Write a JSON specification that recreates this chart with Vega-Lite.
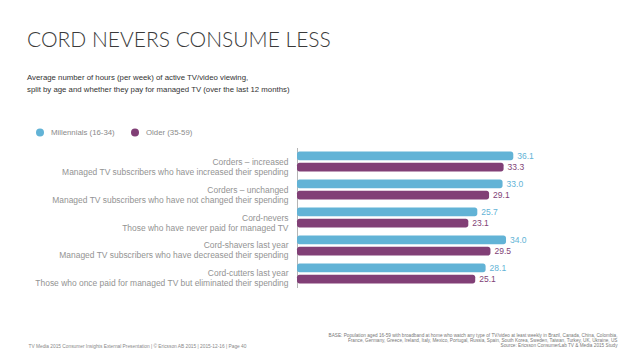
{
  "$schema": "https://vega.github.io/schema/vega-lite/v6.json",
  "autosize": "none",
  "width": 299,
  "height": 140,
  "padding": {"left": 297, "top": 147.5, "right": 42, "bottom": 71.5},
  "background": "white",
  "title": {
    "text": "CORD NEVERS CONSUME LESS",
    "subtitle": ["Average number of hours (per week) of active TV/video viewing,", "split by age and whether they pay for managed TV (over the last 12 months)"],
    "anchor": "start",
    "frame": "group",
    "dx": -270,
    "font": "Lato",
    "fontSize": 21,
    "fontWeight": 300,
    "color": "#3a3a3a",
    "subtitleFont": "Liberation Sans",
    "subtitleFontSize": 7.8,
    "subtitleColor": "#333333",
    "subtitleLineHeight": 12,
    "subtitlePadding": 23,
    "offset": 35
  },
  "data": {
    "values": [
      {"cat": "Corders – increased|Managed TV subscribers who have increased their spending", "series": "Millennials (16-34)", "hours": 36.1},
      {"cat": "Corders – increased|Managed TV subscribers who have increased their spending", "series": "Older (35-59)", "hours": 33.3},
      {"cat": "Corders – unchanged|Managed TV subscribers who have not changed their spending", "series": "Millennials (16-34)", "hours": 33.0},
      {"cat": "Corders – unchanged|Managed TV subscribers who have not changed their spending", "series": "Older (35-59)", "hours": 29.1},
      {"cat": "Cord-nevers|Those who have never paid for managed TV", "series": "Millennials (16-34)", "hours": 25.7},
      {"cat": "Cord-nevers|Those who have never paid for managed TV", "series": "Older (35-59)", "hours": 23.1},
      {"cat": "Cord-shavers last year|Managed TV subscribers who have decreased their spending", "series": "Millennials (16-34)", "hours": 34.0},
      {"cat": "Cord-shavers last year|Managed TV subscribers who have decreased their spending", "series": "Older (35-59)", "hours": 29.5},
      {"cat": "Cord-cutters last year|Those who once paid for managed TV but eliminated their spending", "series": "Millennials (16-34)", "hours": 28.1},
      {"cat": "Cord-cutters last year|Those who once paid for managed TV but eliminated their spending", "series": "Older (35-59)", "hours": 25.1}
    ]
  },
  "encoding": {
    "y": {
      "field": "cat",
      "type": "nominal",
      "sort": null,
      "scale": {"paddingInner": 0.2857, "paddingOuter": 0.1429},
      "axis": {
        "title": ["BASE: Population aged 16-59 with broadband at home who watch any type of TV/video at least weekly in Brazil, Canada, China, Colombia,", "France, Germany, Greece, Ireland, Italy, Mexico, Portugal, Russia, Spain, South Korea, Sweden, Taiwan, Turkey, UK, Ukraine, US", "Source: Ericsson ConsumerLab TV & Media 2015 Study"],
        "titleAngle": 0,
        "titleAlign": "right",
        "titleBaseline": "middle",
        "titleX": 320,
        "titleY": 188,
        "titleFont": "Liberation Sans",
        "titleFontSize": 4.7,
        "titleFontWeight": "normal",
        "titleColor": "#777777",
        "titleLineHeight": 4.9,
        "labelExpr": "split(datum.value, '|')",
        "labelFont": "Liberation Sans",
        "labelFontSize": 8.45,
        "labelColor": "#939393",
        "labelLineHeight": 10,
        "labelPadding": 9,
        "labelLimit": 300,
        "ticks": false,
        "domainColor": "#b5b5b5",
        "domainWidth": 1
      }
    },
    "yOffset": {"field": "series", "type": "nominal", "scale": {"paddingInner": 0.23, "paddingOuter": 0}},
    "color": {
      "field": "series",
      "type": "nominal",
      "scale": {"domain": ["Millennials (16-34)", "Older (35-59)"], "range": ["#62b3d6", "#813f76"]},
      "legend": {
        "orient": "none",
        "legendX": -261,
        "legendY": -19,
        "direction": "horizontal",
        "title": null,
        "symbolType": "circle",
        "symbolSize": 64,
        "symbolStrokeWidth": 0,
        "labelFont": "Liberation Sans",
        "labelFontSize": 7.8,
        "labelColor": "#8a8a8a",
        "columnPadding": 16,
        "labelOffset": 7
      }
    }
  },
  "layer": [
    {
      "mark": {"type": "bar", "cornerRadiusEnd": 2.5},
      "encoding": {
        "x": {
          "field": "hours",
          "type": "quantitative",
          "scale": {"domain": [-26.4, 60], "zero": false, "nice": false},
          "axis": {
            "title": "TV Media 2015 Consumer Insights External Presentation | © Ericsson AB 2015 | 2015-12-16 | Page 40",
            "titleAnchor": "start",
            "titleAlign": "left",
            "titleBaseline": "middle",
            "titleX": -269,
            "titleY": 58.5,
            "titleFont": "Liberation Sans",
            "titleFontSize": 4.8,
            "titleFontWeight": "normal",
            "titleColor": "#888888",
            "labels": false,
            "ticks": false,
            "domain": false,
            "grid": false
          }
        },
        "x2": {"datum": -26.4}
      }
    },
    {
      "mark": {"type": "text", "align": "left", "baseline": "middle", "dx": 4, "font": "Liberation Sans", "fontSize": 8.5},
      "encoding": {
        "x": {"field": "hours", "type": "quantitative"},
        "text": {"field": "hours", "type": "quantitative", "format": ".1f"}
      }
    }
  ],
  "config": {"view": {"stroke": null}}
}
